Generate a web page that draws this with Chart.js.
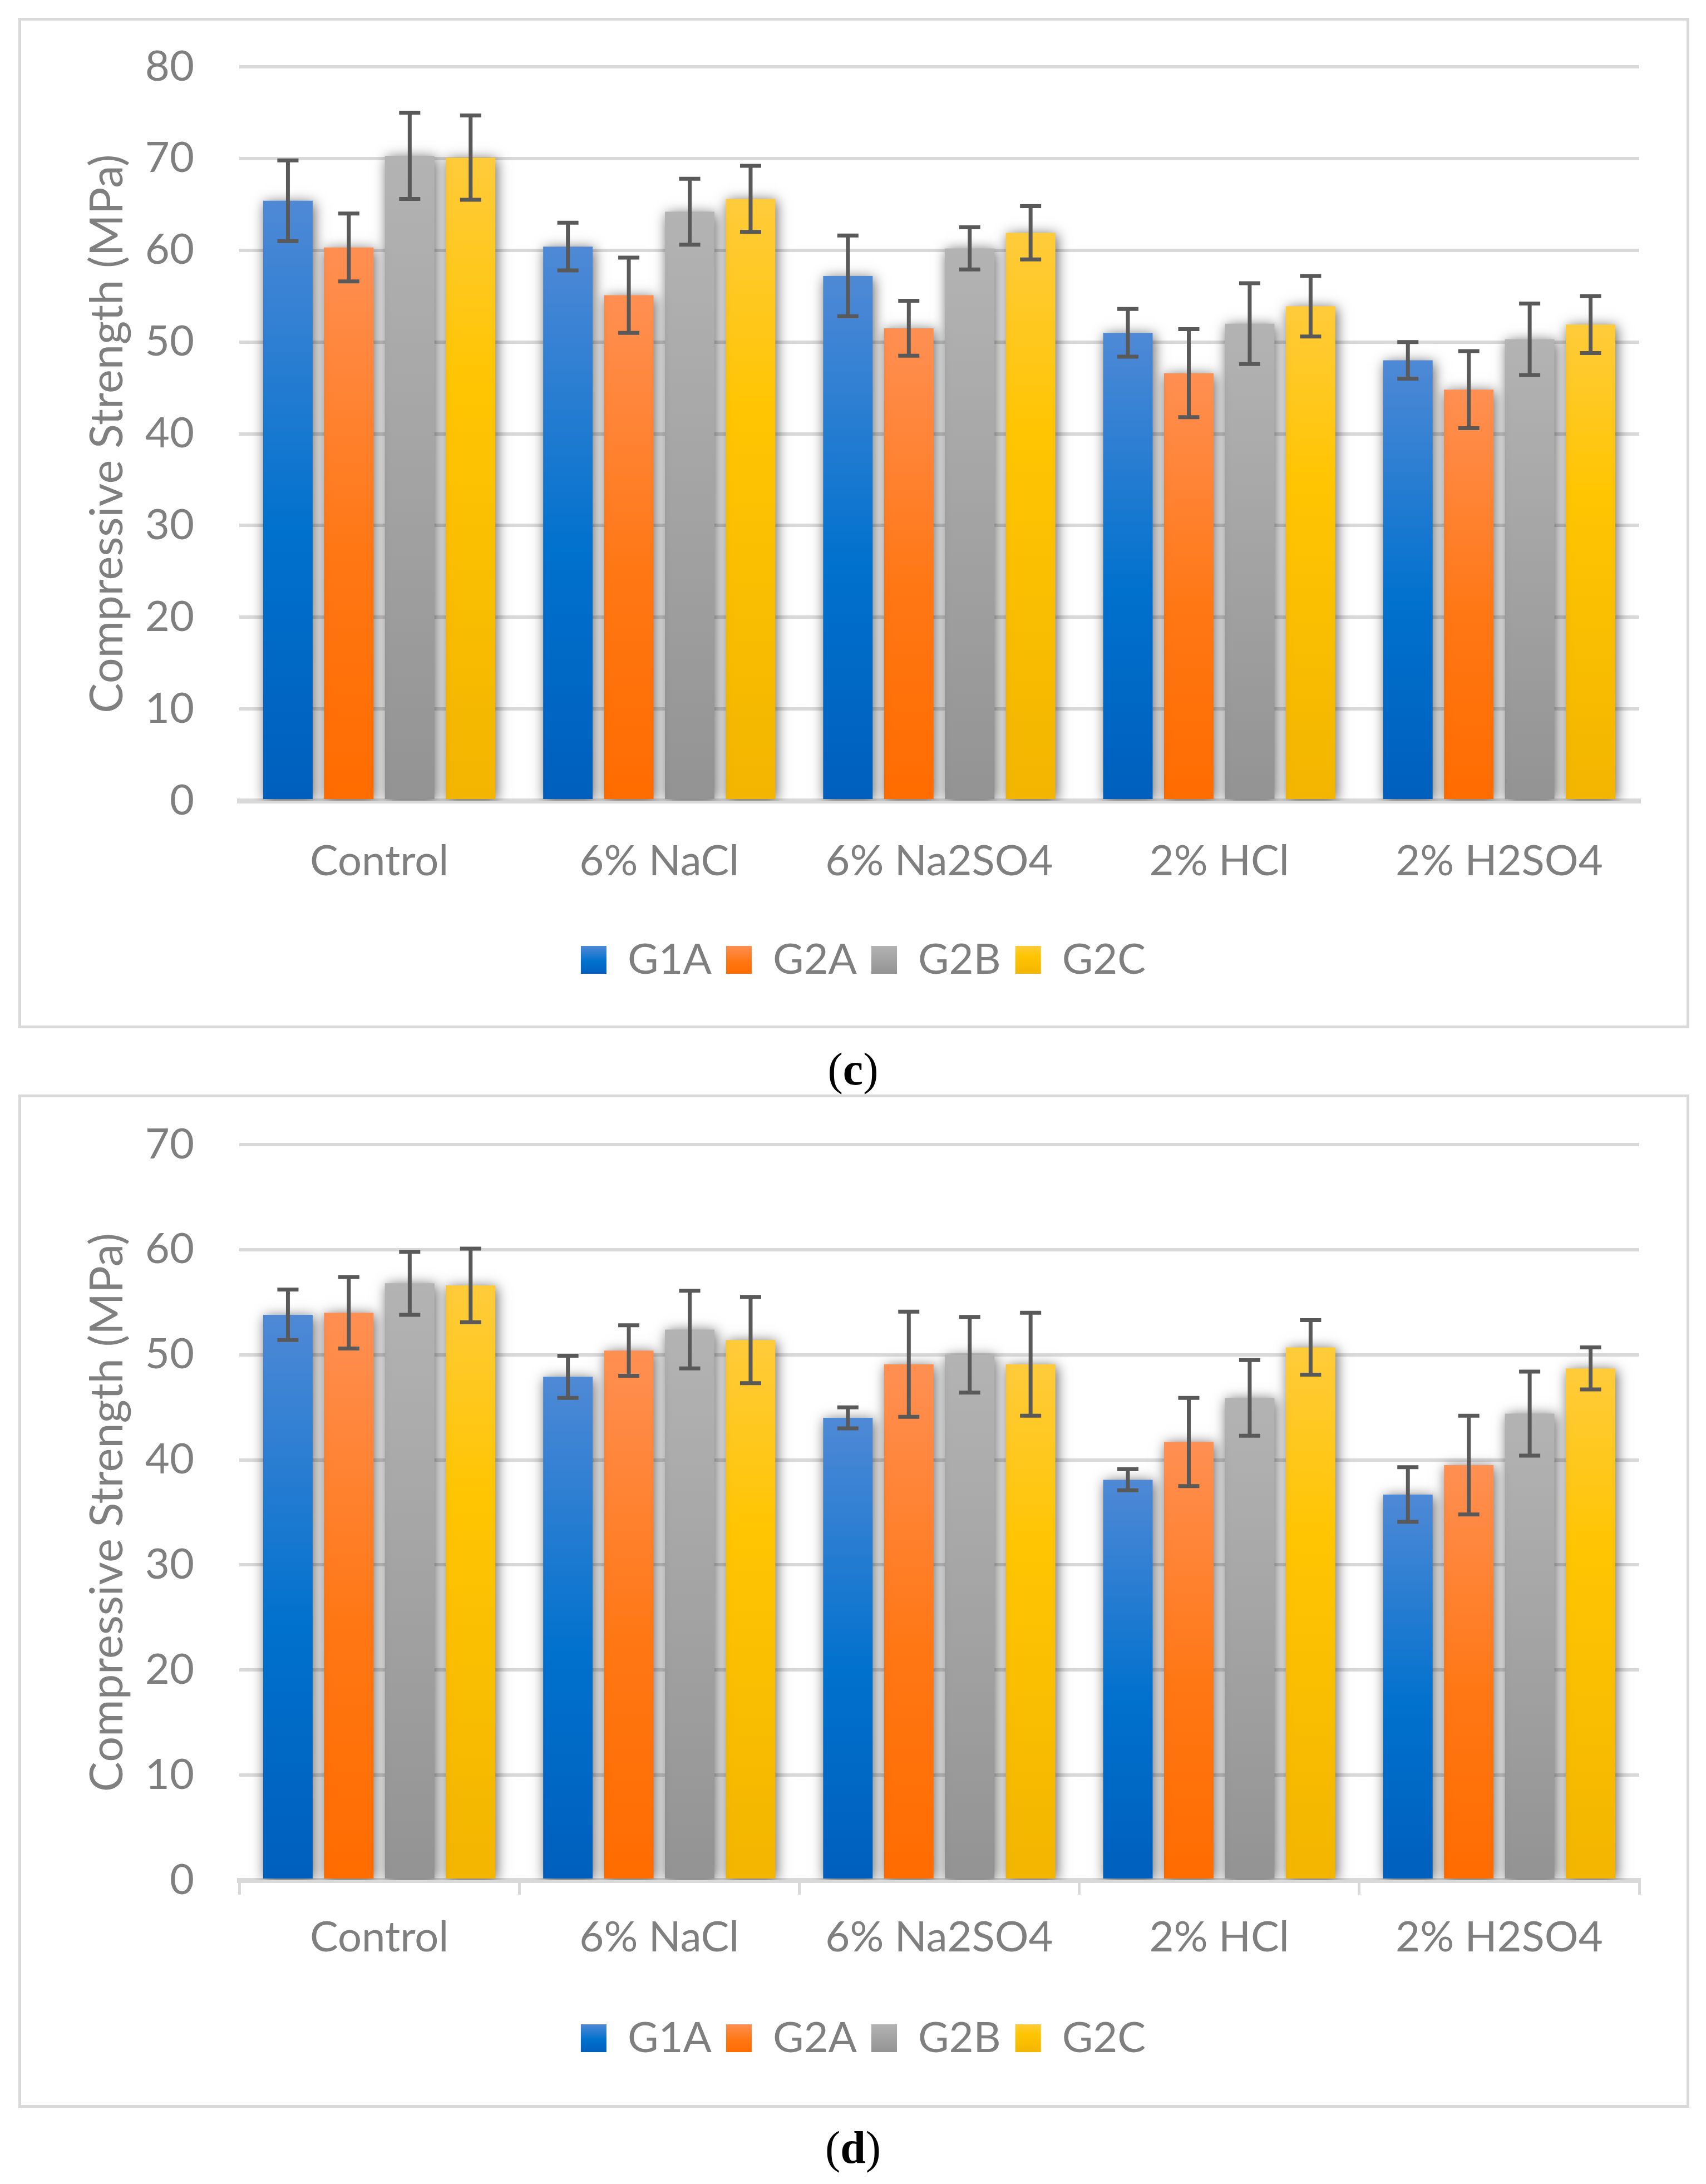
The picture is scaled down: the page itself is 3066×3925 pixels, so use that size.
<!DOCTYPE html>
<html>
<head>
<meta charset="utf-8">
<script src="https://cdn.jsdelivr.net/npm/chart.js"></script>
<style>
body { margin: 0; background: #fff; }
#page { position: relative; width: 3066px; height: 3925px; background: #fff; }
.frame { position: absolute; box-sizing: border-box; border: 5px solid #d9d9d9; }
.wrap { position: absolute; }
.cap { position: absolute; left: 0; width: 3066px; text-align: center; font-family: "Liberation Serif", "DejaVu Serif", serif; font-size: 82px; line-height: 82px; color: #000; }
</style>
</head>
<body>
<div id="page">
  <div class="frame" style="left:33px;top:32px;width:3003px;height:1816px"></div>
  <div class="wrap" style="left:33px;top:32px;width:3003px;height:1816px"><canvas id="chartC"></canvas></div>
  <div class="cap" style="top:1881px">(<b>c</b>)</div>

  <div class="frame" style="left:33px;top:1967px;width:3003px;height:1821px"></div>
  <div class="wrap" style="left:33px;top:1967px;width:3003px;height:1821px"><canvas id="chartD"></canvas></div>
  <div class="cap" style="top:3819px">(<b>d</b>)</div>
</div>
<script>
const categories = ['Control', '6% NaCl', '6% Na2SO4', '2% HCl', '2% H2SO4'];
const seriesNames = ['G1A', 'G2A', 'G2B', 'G2C'];

// (c)
const g1aC = [65.4, 60.4, 57.2, 51.0, 48.0];
const g2aC = [60.3, 55.1, 51.5, 46.6, 44.8];
const g2bC = [70.3, 64.2, 60.2, 52.0, 50.3];
const g2cC = [70.1, 65.6, 61.9, 53.9, 51.9];
const g1aCErr = [4.4, 2.6, 4.4, 2.6, 2.0];
const g2aCErr = [3.7, 4.1, 3.0, 4.8, 4.2];
const g2bCErr = [4.7, 3.6, 2.3, 4.4, 3.9];
const g2cCErr = [4.6, 3.6, 2.9, 3.3, 3.1];
const yTicksC = [0, 10, 20, 30, 40, 50, 60, 70, 80];

// (d)
const g1aD = [53.8, 47.9, 44.0, 38.1, 36.7];
const g2aD = [54.0, 50.4, 49.1, 41.7, 39.5];
const g2bD = [56.8, 52.4, 50.0, 45.9, 44.4];
const g2cD = [56.6, 51.4, 49.1, 50.7, 48.7];
const g1aDErr = [2.4, 2.0, 1.0, 1.0, 2.6];
const g2aDErr = [3.4, 2.4, 5.0, 4.2, 4.7];
const g2bDErr = [3.0, 3.7, 3.6, 3.6, 4.0];
const g2cDErr = [3.5, 4.1, 4.9, 2.6, 2.0];
const yTicksD = [0, 10, 20, 30, 40, 50, 60, 70];

// gradient stops, top of bar -> bottom
const fills = [
    [[0, '#4f89d6'], [0.55, '#0071cd'], [1, '#005fbd']],
    [[0, '#ff8f52'], [0.55, '#ff7714'], [1, '#ff6c00']],
    [[0, '#b3b3b3'], [0.5, '#a3a3a3'], [1, '#939393']],
    [[0, '#ffcb3a'], [0.35, '#ffc502'], [1, '#f3b500']]
];

const LEGEND_PAD = 26;

Chart.defaults.font.family = 'Lato';
Chart.defaults.color = '#7f7f7f';

function barFill(stops) {
    return function (context) {
        const chart = context.chart;
        if (!chart.chartArea || !chart.scales.y) return stops[1][1];
        const y = chart.scales.y;
        const top = y.getPixelForValue(context.raw);
        const bottom = y.getPixelForValue(0);
        if (!isFinite(top) || bottom - top < 1) return stops[1][1];
        const g = chart.ctx.createLinearGradient(0, top, 0, bottom);
        stops.forEach(s => g.addColorStop(s[0], s[1]));
        return g;
    };
}

const errorBars = {
    id: 'errorBars',
    beforeDatasetsDraw(chart) {
        const ctx = chart.ctx;
        ctx.save();
        ctx.shadowColor = 'rgba(0,0,0,0.6)';
        ctx.shadowBlur = 22;
        ctx.shadowOffsetX = 3;
        ctx.shadowOffsetY = 3;
    },
    afterDatasetsDraw(chart) {
        const ctx = chart.ctx;
        ctx.restore();
        const y = chart.scales.y;
        ctx.save();
        ctx.strokeStyle = '#595959';
        ctx.lineWidth = 7;
        chart.data.datasets.forEach((ds, i) => {
            const meta = chart.getDatasetMeta(i);
            meta.data.forEach((bar, j) => {
                const v = ds.data[j], e = ds.errors[j];
                const yt = y.getPixelForValue(v + e);
                const yb = y.getPixelForValue(v - e);
                ctx.beginPath();
                ctx.moveTo(bar.x, yt); ctx.lineTo(bar.x, yb);
                ctx.moveTo(bar.x - 19, yt); ctx.lineTo(bar.x + 19, yt);
                ctx.moveTo(bar.x - 19, yb); ctx.lineTo(bar.x + 19, yb);
                ctx.stroke();
            });
        });
        ctx.restore();
    },
    beforeDraw(chart) {
        // legend keys get their own gradient
        const lg = chart.legend;
        if (!lg || !lg.legendItems) return;
        const top = lg.top + LEGEND_PAD + 13;
        lg.legendItems.forEach((item, i) => {
            const g = chart.ctx.createLinearGradient(0, top, 0, top + 50);
            fills[i].forEach(s => g.addColorStop(s[0], s[1]));
            item.fillStyle = g;
            item.lineWidth = 0;
        });
    }
};

function makeChart(id, values, errors, yTicks, xHeight, padTop, padBottom, tickMarks) {
    const datasets = seriesNames.map((name, i) => ({
        label: name,
        data: values[i],
        errors: errors[i],
        backgroundColor: barFill(fills[i]),
        borderWidth: 0,
        barPercentage: 0.813,
        categoryPercentage: 0.87
    }));

    const config = {
        type: 'bar',
        data: { labels: categories, datasets: datasets },
        options: {
            responsive: true,
            maintainAspectRatio: false,
            animation: false,
            devicePixelRatio: 1,
            layout: { autoPadding: false, padding: { left: 34, right: 0, top: padTop, bottom: padBottom } },
            plugins: {
                tooltip: { enabled: false },
                legend: {
                    position: 'bottom',
                    labels: {
                        boxWidth: 46,
                        boxHeight: 50,
                        padding: LEGEND_PAD,
                        color: '#7f7f7f',
                        font: { size: 76 }
                    }
                }
            },
            scales: {
                x: {
                    afterFit: s => { s.height = xHeight; },
                    grid: {
                        display: tickMarks,
                        drawOnChartArea: false,
                        drawTicks: true,
                        tickLength: 26,
                        offset: true,
                        color: '#d9d9d9',
                        lineWidth: 5
                    },
                    border: { display: true, color: '#d9d9d9', width: 9 },
                    ticks: {
                        padding: tickMarks ? 32 : 38,
                        color: '#7f7f7f',
                        font: { size: 76 },
                        maxRotation: 0
                    }
                },
                y: {
                    min: 0,
                    max: yTicks[yTicks.length - 1],
                    afterFit: s => { s.width = 363; },
                    afterBuildTicks: s => { s.ticks = yTicks.map(v => ({ value: v })); },
                    // invisible tick marks give the gap between labels and plot
                    grid: { color: '#d9d9d9', lineWidth: 6, drawTicks: true, tickLength: 81, tickColor: 'rgba(0,0,0,0)' },
                    border: { display: false },
                    ticks: { padding: 0, color: '#7f7f7f', font: { size: 76 } },
                    title: {
                        display: true,
                        text: 'Compressive Strength (MPa)',
                        color: '#7f7f7f',
                        font: { size: 81 },
                        padding: { top: 78, bottom: 0 }
                    }
                },
                // empty right axis, only keeps space right of the plot
                yRight: {
                    position: 'right',
                    afterFit: s => { s.width = 90; },
                    grid: { display: false },
                    border: { display: false },
                    ticks: { display: false }
                }
            }
        },
        plugins: [errorBars]
    };

    return new Chart(document.getElementById(id), config);
}

const chartC = makeChart('chartC',
    [g1aC, g2aC, g2bC, g2cC],
    [g1aCErr, g2aCErr, g2bCErr, g2cCErr],
    yTicksC, 222, 88, 75, false);

const chartD = makeChart('chartD',
    [g1aD, g2aD, g2bD, g2cD],
    [g1aDErr, g2aDErr, g2bDErr, g2cDErr],
    yTicksD, 220, 90, 77, true);
</script>
</body>
</html>
